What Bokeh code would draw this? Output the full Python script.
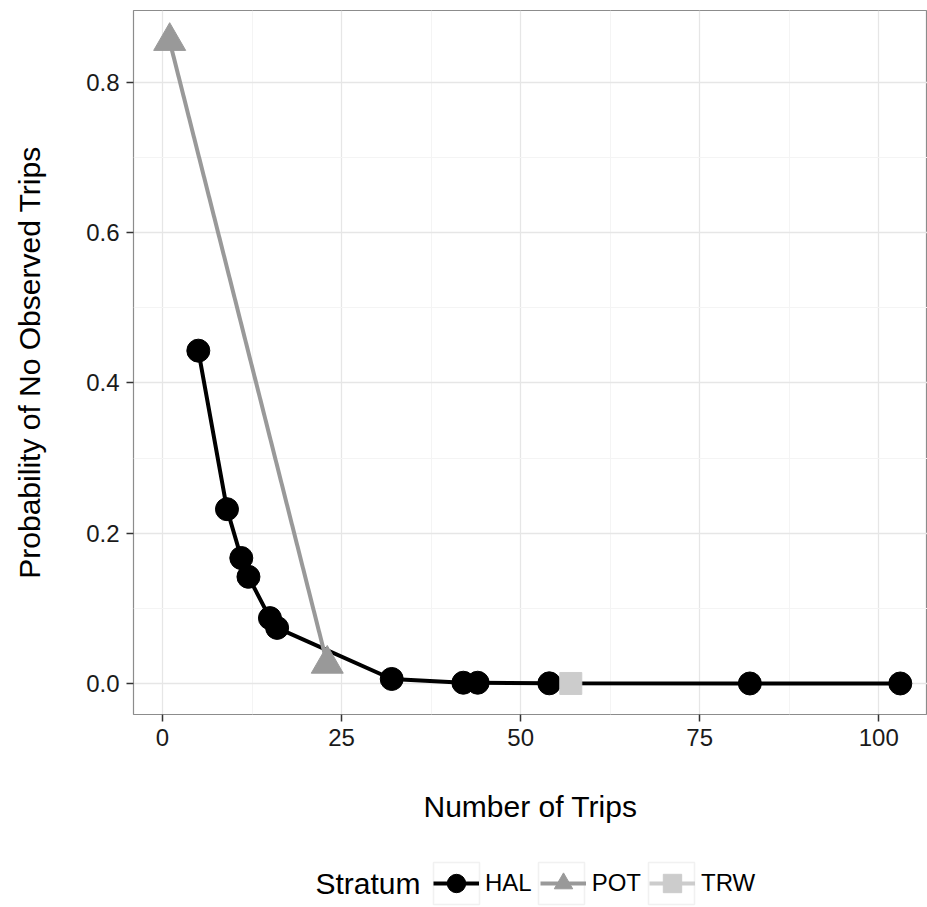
from bokeh.plotting import figure
from bokeh.layouts import column
from bokeh.models import (Range1d, FixedTicker, PrintfTickFormatter, Legend, LegendItem,
                          Label, BoxAnnotation)
from bokeh.embed import file_html
from bokeh.resources import INLINE

# ---- data ----
hal_trips = [5, 9, 11, 12, 15, 16, 32, 42, 44, 54, 82, 103]
hal_prob = [0.443, 0.232, 0.167, 0.142, 0.087, 0.074, 0.006, 0.001, 0.001, 0.0002, 0.0, 0.0]
pot_trips = [1, 23]
pot_prob = [0.855, 0.026]
trw_trips = [57]
trw_prob = [0.0]

strata = ["HAL", "POT", "TRW"]
legend_title = "Stratum"
x_ticks = [0, 25, 50, 75, 100]
x_minor = [12.5, 37.5, 62.5, 87.5]
y_ticks = [0.0, 0.2, 0.4, 0.6, 0.8]
y_minor = [0.1, 0.3, 0.5, 0.7]

FONT = "Liberation Sans"
C_HAL, C_POT, C_TRW = "#000000", "#999999", "#cccccc"

# ---------------- main chart ----------------
p = figure(width=927, height=850, output_backend="svg", toolbar_location=None,
           x_range=Range1d(-4.05, 106.8), y_range=Range1d(-0.0413, 0.8958),
           min_border_left=133, min_border_right=0, min_border_top=10, min_border_bottom=136,
           background_fill_color="white", border_fill_color="white")

p.outline_line_color = "#8c8c8c"
p.outline_line_width = 1.2

p.xaxis.ticker = FixedTicker(ticks=x_ticks, minor_ticks=x_minor)
p.yaxis.ticker = FixedTicker(ticks=y_ticks, minor_ticks=y_minor)
p.yaxis.formatter = PrintfTickFormatter(format="%.1f")

for ax in (p.xaxis[0], p.yaxis[0]):
    ax.axis_line_color = None
    ax.major_tick_in = 0
    ax.major_tick_out = 7
    ax.major_tick_line_color = "#333333"
    ax.major_tick_line_width = 1.5
    ax.minor_tick_line_color = None
    ax.major_label_text_font = FONT
    ax.major_label_text_font_size = "24px"
    ax.major_label_text_color = "#1a1a1a"
    ax.axis_label_text_font = FONT
    ax.axis_label_text_font_size = "30px"
    ax.axis_label_text_font_style = "normal"
    ax.axis_label_text_color = "#000000"

p.xaxis.axis_label = "Number of Trips"
p.yaxis.axis_label = "Probability of No Observed Trips"
p.xaxis.major_label_standoff = 7
p.yaxis.major_label_standoff = 7
p.xaxis.axis_label_standoff = 41
p.yaxis.axis_label_standoff = 37

p.xgrid.grid_line_color = "#e6e6e6"
p.ygrid.grid_line_color = "#e6e6e6"
p.xgrid.grid_line_width = 1.3
p.ygrid.grid_line_width = 1.3
p.xgrid.minor_grid_line_color = "#f4f4f4"
p.ygrid.minor_grid_line_color = "#f4f4f4"
p.xgrid.minor_grid_line_width = 1
p.ygrid.minor_grid_line_width = 1

# lines first (ggplot order), then points
p.line(hal_trips, hal_prob, line_color=C_HAL, line_width=4)
p.line(pot_trips, pot_prob, line_color=C_POT, line_width=4)
p.line(trw_trips, trw_prob, line_color=C_TRW, line_width=4)
p.scatter(hal_trips, hal_prob, marker="circle", size=23, fill_color=C_HAL, line_color=C_HAL)
p.scatter(pot_trips, pot_prob, marker="triangle", size=32, fill_color=C_POT, line_color=C_POT)
p.scatter(trw_trips, trw_prob, marker="square", size=22, fill_color=C_TRW, line_color=C_TRW)

# ---------------- legend strip (frame aligned with the main chart's frame) ----------------
lg = figure(width=927, height=57, output_backend="svg", toolbar_location=None,
            x_axis_type=None, y_axis_type=None, min_border=0,
            x_range=Range1d(-20, -10), y_range=Range1d(-20, -10),   # series kept out of view
            background_fill_color="white", border_fill_color="white")
lg.outline_line_color = None
lg.grid.visible = False

# key boxes (ggplot-style legend key frames)
for left in (300, 405, 515):
    lg.add_layout(BoxAnnotation(left=left, right=left + 46, bottom=3, top=45,
                                left_units="screen", right_units="screen",
                                bottom_units="screen", top_units="screen",
                                fill_alpha=0, line_color="#d0d0d0", line_width=1.5))

series = [(hal_trips, hal_prob, C_HAL, "circle"),
          (pot_trips, pot_prob, C_POT, "triangle"),
          (trw_trips, trw_prob, C_TRW, "square")]
items = []
for name, (xs, ys, col, mk) in zip(strata, series):
    rl = lg.line(xs, ys, line_color=col, line_width=4)
    rs = lg.scatter(xs, ys, marker=mk, size=20, fill_color=col, line_color=col)
    items.append(LegendItem(label=name, renderers=[rl, rs]))

legend = Legend(items=items, orientation="horizontal", location=(300, 1),
                glyph_width=46, glyph_height=46, label_standoff=6, spacing=8,
                padding=0, margin=0,
                label_text_font=FONT, label_text_font_size="24px", label_text_color="#000000",
                border_line_color=None, background_fill_alpha=0)
lg.add_layout(legend)

lg.add_layout(Label(x=287, y=24, x_units="screen", y_units="screen", text=legend_title,
                    text_font=FONT, text_font_size="30px", text_align="right",
                    text_baseline="middle", text_color="#000000"))

open("out.html", "w").write(file_html(column(p, lg, spacing=0), INLINE))
